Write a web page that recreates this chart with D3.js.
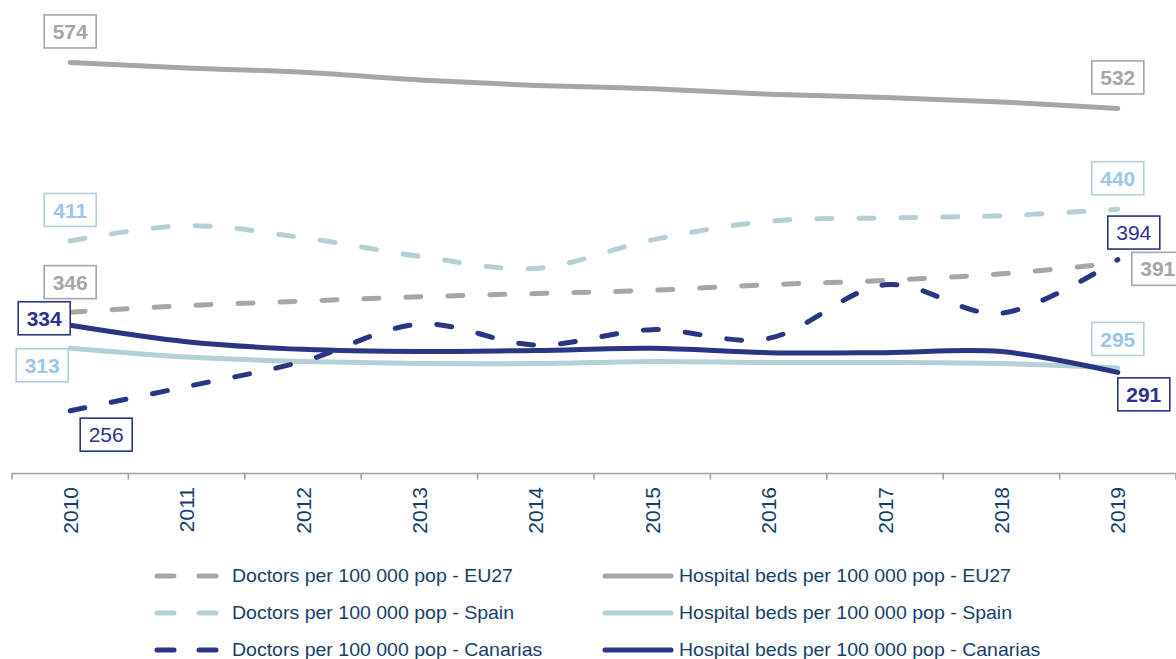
<!DOCTYPE html>
<html>
<head>
<meta charset="utf-8">
<script src="https://cdn.jsdelivr.net/npm/d3@7"></script>
<style>
  html, body { margin: 0; padding: 0; background: #fff; }
  svg { display: block; font-family: "Liberation Sans", Arial, sans-serif; }
</style>
</head>
<body>
<svg id="chart" width="1176" height="659"></svg>
<script>
// Years on the category axis
const years = ["2010","2011","2012","2013","2014","2015","2016","2017","2018","2019"];

// Doctors per 100 000 population
const doctorsEU27     = [346, 352, 356, 360, 363, 366, 371, 375, 381, 391];
const doctorsSpain    = [411, 425, 414, 397, 386, 412, 429, 432, 434, 440];
const doctorsCanarias = [256, 278, 301, 335, 316, 330, 322, 371, 345, 394];

// Hospital beds per 100 000 population
const bedsEU27     = [574, 569, 565, 558, 553, 550, 545, 542, 538, 532];
const bedsSpain    = [313, 305, 301, 299, 299, 301, 300, 300, 299, 295];
const bedsCanarias = [334, 319, 312, 310, 311, 313, 309, 309, 310, 291];

const legendLabels = [
  "Doctors per 100 000 pop - EU27",
  "Doctors per 100 000 pop - Spain",
  "Doctors per 100 000 pop - Canarias",
  "Hospital beds per 100 000 pop - EU27",
  "Hospital beds per 100 000 pop - Spain",
  "Hospital beds per 100 000 pop - Canarias"
];

const C_GRAY = "#a6a6a6", C_LIGHT = "#b4cfd6", C_NAVY = "#2a3584";
const C_LIGHT_TEXT = "#9cc6ec";
const AXIS_TEXT = "#173f6b";

const series = [
  { key: "dEU",  values: doctorsEU27,     color: C_GRAY,  dashed: true,  label: legendLabels[0] },
  { key: "dES",  values: doctorsSpain,    color: C_LIGHT, dashed: true,  label: legendLabels[1] },
  { key: "dCA",  values: doctorsCanarias, color: C_NAVY,  dashed: true,  label: legendLabels[2] },
  { key: "bEU",  values: bedsEU27,        color: C_GRAY,  dashed: false, label: legendLabels[3] },
  { key: "bES",  values: bedsSpain,       color: C_LIGHT, dashed: false, label: legendLabels[4] },
  { key: "bCA",  values: bedsCanarias,    color: C_NAVY,  dashed: false, label: legendLabels[5] }
];

const svg = d3.select("#chart");

const x = d3.scaleBand().domain(years).range([12, 1176]).padding(0);
const cx = d => x(d) + x.bandwidth() / 2;
const y = d3.scaleLinear().domain([200, 600]).range([472, 34]);

const DASH = "15,27";
const LW = 5;

// Category axis: baseline, boundary ticks and rotated year labels
const axisY = 473;
const axisG = svg.append("g").attr("transform", `translate(0,${axisY})`)
  .call(d3.axisBottom(x).tickSize(0).tickSizeOuter(0));
axisG.select(".domain").attr("stroke", "#a0a0a0").attr("stroke-width", 1.6);
axisG.selectAll(".tick text")
  .attr("font-size", 21)
  .attr("font-family", "Liberation Sans, Arial, sans-serif")
  .attr("fill", AXIS_TEXT)
  .attr("text-anchor", "end")
  .attr("transform", "rotate(-90)")
  .attr("x", -14)
  .attr("y", 0)
  .attr("dy", "0.36em");
const bounds = years.map(d => x(d)).concat([x(years[years.length - 1]) + x.bandwidth()]);
axisG.selectAll("line.bound").data(bounds).enter().append("line")
  .attr("class", "bound")
  .attr("x1", d => d).attr("x2", d => d)
  .attr("y1", 0).attr("y2", 6.5)
  .attr("stroke", "#a0a0a0").attr("stroke-width", 1.6);

// Smoothed series lines
const line = d3.line()
  .x((v, i) => cx(years[i]))
  .y(v => y(v))
  .curve(d3.curveCatmullRom.alpha(0));

const drawOrder = ["bEU", "bES", "bCA", "dEU", "dES", "dCA"];
drawOrder.forEach(k => {
  const s = series.find(z => z.key === k);
  svg.append("path")
    .attr("d", line(s.values))
    .attr("fill", "none")
    .attr("stroke", s.color)
    .attr("stroke-width", LW)
    .attr("stroke-linecap", "round")
    .attr("stroke-linejoin", "round")
    .attr("stroke-dasharray", s.dashed ? DASH : null);
});

// Boxed end-point value labels (offsets of the box centre from the point)
const labelSpec = [
  { key: "bEU", i: 0, dx: 0,   dy: -31, bold: true,  text: C_GRAY,       border: C_GRAY },
  { key: "bEU", i: 9, dx: 0,   dy: -31, bold: true,  text: C_GRAY,       border: C_GRAY },
  { key: "dES", i: 0, dx: 0,   dy: -31, bold: true,  text: C_LIGHT_TEXT, border: C_LIGHT },
  { key: "dES", i: 9, dx: 0,   dy: -31, bold: true,  text: C_LIGHT_TEXT, border: C_LIGHT },
  { key: "dEU", i: 0, dx: 0,   dy: -30, bold: true,  text: C_GRAY,       border: C_GRAY },
  { key: "dEU", i: 9, dx: 40,  dy: 6,   bold: true,  text: C_GRAY,       border: C_GRAY },
  { key: "bCA", i: 0, dx: -26, dy: -7,  bold: true,  text: "#2e3192",    border: C_NAVY },
  { key: "bCA", i: 9, dx: 26,  dy: 22,  bold: true,  text: "#2e3192",    border: C_NAVY },
  { key: "bES", i: 0, dx: -28, dy: 17,  bold: true,  text: C_LIGHT_TEXT, border: C_LIGHT },
  { key: "bES", i: 9, dx: 0,   dy: -29, bold: true,  text: C_LIGHT_TEXT, border: C_LIGHT },
  { key: "dCA", i: 0, dx: 36,  dy: 24,  bold: false, text: "#2e3192",    border: C_NAVY },
  { key: "dCA", i: 9, dx: 16,  dy: -27, bold: false, text: "#2e3192",    border: C_NAVY }
];
const BW = 52, BH = 33;
const lblG = svg.append("g");
labelSpec.forEach(l => {
  const s = series.find(z => z.key === l.key);
  const v = s.values[l.i];
  const px = cx(years[l.i]) + l.dx, py = y(v) + l.dy;
  lblG.append("rect")
    .attr("x", px - BW / 2).attr("y", py - BH / 2)
    .attr("width", BW).attr("height", BH)
    .attr("fill", "#fff")
    .attr("stroke", l.border).attr("stroke-width", 1.6);
  lblG.append("text")
    .attr("x", px).attr("y", py)
    .attr("dy", "0.36em")
    .attr("text-anchor", "middle")
    .attr("font-size", 21)
    .attr("font-weight", l.bold ? "bold" : "normal")
    .attr("fill", l.text)
    .text(v);
});

// Legend: doctors in the left column, hospital beds in the right
const rowsY = [576, 613, 650];
const legG = svg.append("g");
series.forEach((s, idx) => {
  const col = idx < 3 ? 0 : 1;
  const ry = rowsY[idx % 3];
  if (col === 0) {
    legG.append("line")
      .attr("x1", 157).attr("x2", 220).attr("y1", ry).attr("y2", ry)
      .attr("stroke", s.color).attr("stroke-width", LW)
      .attr("stroke-linecap", "round").attr("stroke-dasharray", "17,25");
  } else {
    legG.append("line")
      .attr("x1", 605).attr("x2", 671).attr("y1", ry).attr("y2", ry)
      .attr("stroke", s.color).attr("stroke-width", LW)
      .attr("stroke-linecap", "round");
  }
  const tx = col === 0 ? 232 : 679;
  legG.append("text")
    .attr("transform", `translate(${tx},${ry}) scale(1.085,1)`)
    .attr("dy", "0.36em")
    .attr("font-size", 18)
    .attr("fill", AXIS_TEXT)
    .text(s.label);
});
</script>
</body>
</html>
